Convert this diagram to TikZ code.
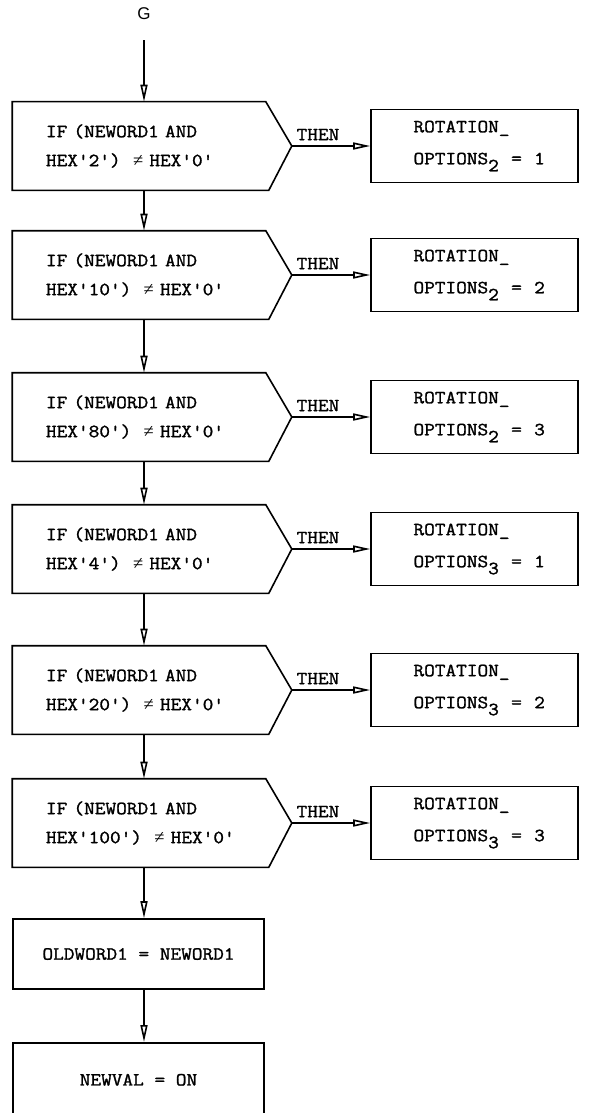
\documentclass[tikz,border=0pt]{standalone}
\usepackage{fontspec}
\newfontfamily\cardfont{Latin Modern Mono}[FakeStretch=1.12, FakeBold=1.4]
\newfontfamily\neqfont{Liberation Serif}
\newfontfamily\tagfont{Liberation Sans}
\usetikzlibrary{arrows.meta, calc}

\newcommand{\lowidx}[1]{\raisebox{-7pt}{#1}}
\newcommand{\nequal}{{\neqfont ≠}}
\newcommand{\ifoutline}[1]{%
  \draw (#1.north west) -- ($(#1.north east)+(-10,0)$) -- ($(#1.east)+(16,0)$) coordinate (#1tip)
    -- ($(#1.south east)+(-7,0)$) -- (#1.south west) -- cycle;}

\begin{document}
\begin{tikzpicture}[x=1pt, y=-1pt, line width=1.6pt, >={Triangle[open, length=17pt, width=7pt]},
  every node/.style={font=\cardfont\fontsize{18.5}{29}\selectfont},
  ifnode/.style={minimum width=262pt, minimum height=87pt, text width=196pt, align=left, inner sep=0pt},
  rotbox/.style={draw, minimum width=207pt, minimum height=73pt, text width=122pt, align=left, inner sep=0pt, font=\cardfont\fontsize{18.5}{32}\selectfont},
  procbox/.style={draw, minimum width=251pt, inner sep=0pt}]
  \useasboundingbox (0,0) rectangle (592,1113);

  \node[font=\tagfont\fontsize{17}{17}\selectfont] (g) at (144,14) {G};

  \node[ifnode] (if1) at (144,146) {IF~(NEWORD1~AND\\HEX'2')~~\nequal~HEX'0'};
  \node[ifnode] (if2) at (144,275) {IF~(NEWORD1~AND\\HEX'10')~~\nequal~HEX'0'};
  \node[ifnode] (if3) at (144,417) {IF~(NEWORD1~AND\\HEX'80')~~\nequal~HEX'0'};
  \node[ifnode] (if4) at (144,549) {IF~(NEWORD1~AND\\HEX'4')~~\nequal~HEX'0'};
  \node[ifnode] (if5) at (144,690) {IF~(NEWORD1~AND\\HEX'20')~~\nequal~HEX'0'};
  \node[ifnode] (if6) at (144,823) {IF~(NEWORD1~AND\\HEX'100')~~\nequal~HEX'0'};
  \ifoutline{if1}
  \ifoutline{if2}
  \ifoutline{if3}
  \ifoutline{if4}
  \ifoutline{if5}
  \ifoutline{if6}

  \node[rotbox] (rot1) at (474.5,146) {ROTATION\_\\OPTIONS\lowidx{2}~~=~~1};
  \node[rotbox] (rot2) at (474.5,275) {ROTATION\_\\OPTIONS\lowidx{2}~~=~~2};
  \node[rotbox] (rot3) at (474.5,417) {ROTATION\_\\OPTIONS\lowidx{2}~~=~~3};
  \node[rotbox] (rot4) at (474.5,549) {ROTATION\_\\OPTIONS\lowidx{3}~~=~~1};
  \node[rotbox] (rot5) at (474.5,690) {ROTATION\_\\OPTIONS\lowidx{3}~~=~~2};
  \node[rotbox] (rot6) at (474.5,823) {ROTATION\_\\OPTIONS\lowidx{3}~~=~~3};

  \node[procbox, minimum height=70pt] (oldword) at (138.5,954) {OLDWORD1 = NEWORD1};
  \node[procbox, minimum height=74pt, anchor=north] (newval) at (138.5,1042) {NEWVAL = ON};

  % main line
  \draw[->, shorten <=16pt] (g) -- (if1.north);
  \draw[->] (if1.south) -- (if2.north);
  \draw[->] (if2.south) -- (if3.north);
  \draw[->] (if3.south) -- (if4.north);
  \draw[->] (if4.south) -- (if5.north);
  \draw[->] (if5.south) -- (if6.north);
  \draw[->] (if6.south) -- (if6.south |- oldword.north);
  \draw[->] (if6.south |- oldword.south) -- (if6.south |- newval.north);

  % then branches
  \draw[->] (if1tip) -- (rot1.west) node[pos=0, anchor=south west, inner xsep=4pt, inner ysep=5pt] {THEN};
  \draw[->] (if2tip) -- (rot2.west) node[pos=0, anchor=south west, inner xsep=4pt, inner ysep=5pt] {THEN};
  \draw[->] (if3tip) -- (rot3.west) node[pos=0, anchor=south west, inner xsep=4pt, inner ysep=5pt] {THEN};
  \draw[->] (if4tip) -- (rot4.west) node[pos=0, anchor=south west, inner xsep=4pt, inner ysep=5pt] {THEN};
  \draw[->] (if5tip) -- (rot5.west) node[pos=0, anchor=south west, inner xsep=4pt, inner ysep=5pt] {THEN};
  \draw[->] (if6tip) -- (rot6.west) node[pos=0, anchor=south west, inner xsep=4pt, inner ysep=5pt] {THEN};
\end{tikzpicture}
\end{document}
